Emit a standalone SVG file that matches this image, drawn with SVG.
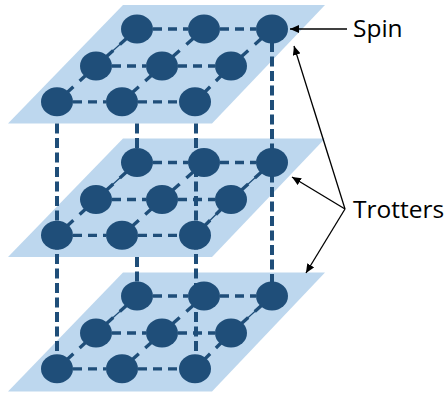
<svg xmlns="http://www.w3.org/2000/svg" width="448" height="393" viewBox="0 0 448 393">
<style>
.plane{fill:#BDD7EE}
.node{fill:#1F4E79}
.v{stroke:#1F4E79;stroke-width:4;stroke-dasharray:10 4.5;fill:none}
.h{stroke:#1F4E79;stroke-width:3.3;stroke-dasharray:9 6;fill:none}
.d{stroke:#1F4E79;stroke-width:3.3;stroke-dasharray:42 16 100;fill:none}
.t{stroke:#1F4E79;stroke-width:1.2;fill:none}
.arr{stroke:#000;stroke-width:1.3;fill:none;marker-end:url(#ah)}
.lbl{font-family:"Open Sans","Liberation Sans",sans-serif;font-size:24.5px;fill:#000}
</style>
<defs>
<marker id="ah" markerUnits="userSpaceOnUse" markerWidth="10" markerHeight="8" refX="9" refY="4" orient="auto">
<path d="M0,0 L9,4 L0,8 Z" fill="#000"/>
</marker>
<g id="lattice">
<g class="conn">
<line class="h" x1="153" y1="29" x2="188" y2="29"/>
<line class="h" x1="220" y1="29" x2="256" y2="29"/>
<line class="h" x1="112" y1="66" x2="146" y2="66"/>
<line class="h" x1="178" y1="66" x2="215" y2="66"/>
<line class="h" x1="73" y1="101.8" x2="106" y2="101.8"/>
<line class="h" x1="138" y1="101.8" x2="179" y2="101.8"/>
<line class="d" pathLength="100" x1="57" y1="101.8" x2="96" y2="66"/>
<line class="d" pathLength="100" x1="96" y1="66" x2="137" y2="29"/>
<line class="d" pathLength="100" x1="122" y1="101.8" x2="162" y2="66"/>
<line class="d" pathLength="100" x1="162" y1="66" x2="204" y2="29"/>
<line class="d" pathLength="100" x1="195" y1="101.8" x2="231" y2="66"/>
<line class="d" pathLength="100" x1="231" y1="66" x2="272" y2="29"/>
</g>
<g class="nodes">
<ellipse class="node" cx="137" cy="29" rx="16" ry="14.5"/>
<ellipse class="node" cx="204" cy="29" rx="16" ry="14.5"/>
<ellipse class="node" cx="272" cy="29" rx="16" ry="14.5"/>
<ellipse class="node" cx="96" cy="66" rx="16" ry="14.5"/>
<ellipse class="node" cx="162" cy="66" rx="16" ry="14.5"/>
<ellipse class="node" cx="231" cy="66" rx="16" ry="14.5"/>
<ellipse class="node" cx="57" cy="101.8" rx="16" ry="14.5"/>
<ellipse class="node" cx="122" cy="101.8" rx="16" ry="14.5"/>
<ellipse class="node" cx="195" cy="101.8" rx="16" ry="14.5"/>
</g>
</g>
</defs>

<g id="planes">
<polygon id="plane-top" class="plane" points="123,5 325,5 212,123.5 8,123.5"/>
<polygon id="plane-middle" class="plane" points="123,138.5 325,138.5 212,257 8,257"/>
<polygon id="plane-bottom" class="plane" points="123,272.5 325,272.5 212,391.5 8,391.5"/>
</g>

<g id="connectors">
<line class="v" x1="57" y1="123.5" x2="57" y2="369"/>
<line class="v" x1="196" y1="123.5" x2="196" y2="369"/>
<line class="v" x1="272" y1="42" x2="272" y2="296"/>
<line class="v" x1="137" y1="123.5" x2="137" y2="160"/>
<line class="v" x1="137" y1="257" x2="137" y2="295"/>
<line class="t" x1="96" y1="66" x2="137" y2="29"/>
<line class="t" x1="96" y1="199.5" x2="137" y2="162.5"/>
<line class="t" x1="195" y1="235.3" x2="231" y2="199.5"/>
<line class="t" x1="231" y1="199.5" x2="272" y2="162.5"/>
<line class="t" x1="96" y1="333" x2="137" y2="296"/>
<line class="t" x1="231" y1="333" x2="272" y2="296"/>
<line class="arr" x1="347" y1="29" x2="290" y2="29"/>
<line class="arr" x1="345" y1="209" x2="294" y2="46"/>
<line class="arr" x1="345" y1="209" x2="292" y2="177"/>
<line class="arr" x1="345" y1="209" x2="306" y2="273"/>
</g>

<g id="layer-top"><use href="#lattice"/></g>
<g id="layer-middle"><use href="#lattice" transform="translate(0,133.5)"/></g>
<g id="layer-bottom"><use href="#lattice" transform="translate(0,267)"/></g>

<g id="labels">
<text id="label-spin" class="lbl" x="353" y="37">Spin</text>
<text id="label-trotters" class="lbl" x="353" y="218">Trotters</text>
</g>
</svg>
